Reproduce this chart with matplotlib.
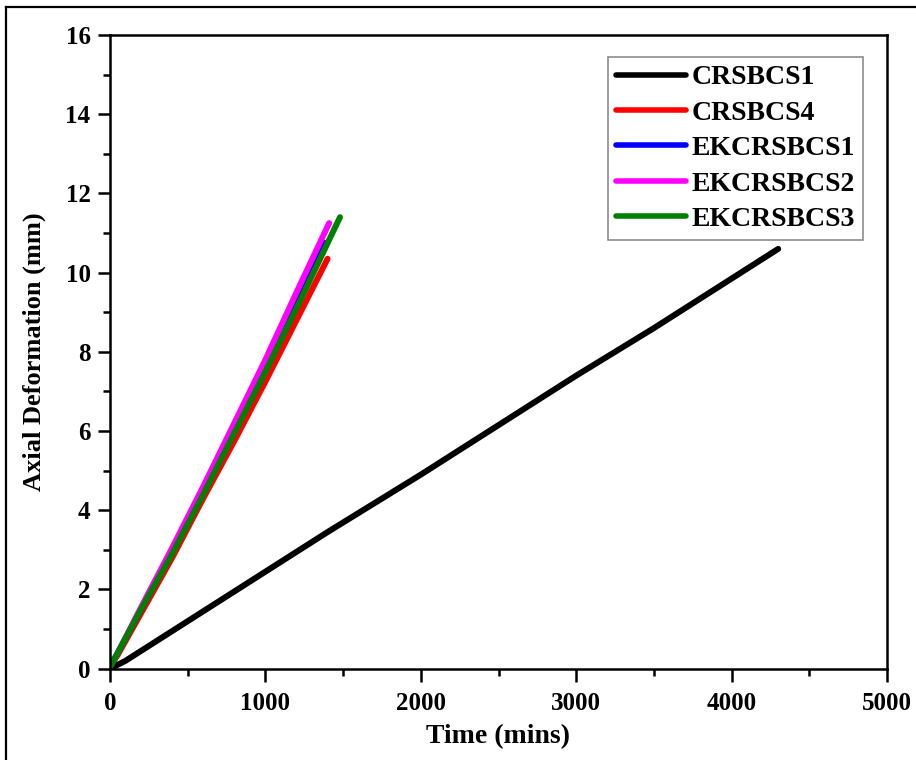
import matplotlib.pyplot as plt
import numpy as np
from matplotlib.lines import Line2D

plt.rcParams['font.family'] = ['Liberation Serif', 'DejaVu Serif']
plt.rcParams['font.weight'] = 'bold'

# values
t_crsbcs1 = [0, 100, 400, 800, 1000, 1400, 2000, 2500, 3000, 3500, 4000, 4300]
d_crsbcs1 = [0, 0.2, 0.95, 1.95, 2.45, 3.45, 4.9, 6.15, 7.4, 8.6, 9.85, 10.6]

t_crsbcs4 = [0, 50, 200, 400, 600, 800, 1000, 1200, 1400]
d_crsbcs4 = [0.05, 0.35, 1.4, 2.8, 4.3, 5.75, 7.25, 8.8, 10.35]

t_ek1 = [0, 50, 200, 400, 600, 800, 1000, 1200, 1380]
d_ek1 = [0.05, 0.4, 1.5, 2.95, 4.45, 6.0, 7.55, 9.2, 10.75]

t_ek2 = [0, 50, 200, 400, 600, 800, 1000, 1200, 1410]
d_ek2 = [0.05, 0.4, 1.55, 3.05, 4.6, 6.2, 7.8, 9.5, 11.25]

t_ek3 = [0, 50, 200, 400, 600, 800, 1000, 1200, 1480]
d_ek3 = [0.05, 0.4, 1.5, 2.9, 4.4, 5.95, 7.5, 9.1, 11.4]

fig = plt.figure(figsize=(9.16, 7.6), dpi=100)
ax = fig.add_axes([110 / 916, 1 - 668.7 / 760, (887 - 110) / 916, (668.7 - 35) / 760])

lw = 4.3
ax.plot(t_crsbcs1, d_crsbcs1, color='black', lw=lw, label='CRSBCS1', solid_capstyle='round')
ax.plot(t_crsbcs4, d_crsbcs4, color='red', lw=lw, label='CRSBCS4', solid_capstyle='round')
ax.plot(t_ek1, d_ek1, color='blue', lw=lw, label='EKCRSBCS1', solid_capstyle='round')
ax.plot(t_ek2, d_ek2, color='magenta', lw=lw, label='EKCRSBCS2', solid_capstyle='round')
ax.plot(t_ek3, d_ek3, color='green', lw=lw, label='EKCRSBCS3', solid_capstyle='round')

ax.set_xlim(0, 5000)
ax.set_ylim(0, 16)
ax.set_xticks(np.arange(0, 5001, 1000))
ax.set_yticks(np.arange(0, 17, 2))
ax.set_xticks(np.arange(500, 5000, 1000), minor=True)
ax.set_yticks(np.arange(1, 16, 2), minor=True)
ax.tick_params(which='major', direction='out', length=9, width=1.8, labelsize=18)
ax.tick_params(axis='x', which='major', pad=8)
ax.tick_params(axis='y', which='major', pad=5)
ax.tick_params(which='minor', direction='out', length=5, width=1.8)
for s in ax.spines.values():
    s.set_linewidth(1.8)

ax.set_xlabel('Time (mins)', fontsize=20, fontweight='bold', labelpad=6)
ax.set_ylabel('Axial Deformation (mm)', fontsize=19, fontweight='bold', labelpad=14)

leg = ax.legend(loc='upper right', bbox_to_anchor=(0.969, 0.966), fontsize=20,
                frameon=True, fancybox=False, edgecolor='#707070',
                handlelength=2.5, handletextpad=0.2, labelspacing=0.36,
                borderpad=0.3, borderaxespad=0)
leg.get_frame().set_linewidth(1.2)
for h in leg.get_lines():
    h.set_linewidth(4)

# outer frame of the picture
fig.add_artist(Line2D([6 / 916, 6 / 916], [0, 1 - 7 / 760], transform=fig.transFigure, color='black', lw=1.6))
fig.add_artist(Line2D([6 / 916, 1], [1 - 7 / 760, 1 - 7 / 760], transform=fig.transFigure, color='black', lw=1.6))

fig.savefig('out.png', dpi=100)
